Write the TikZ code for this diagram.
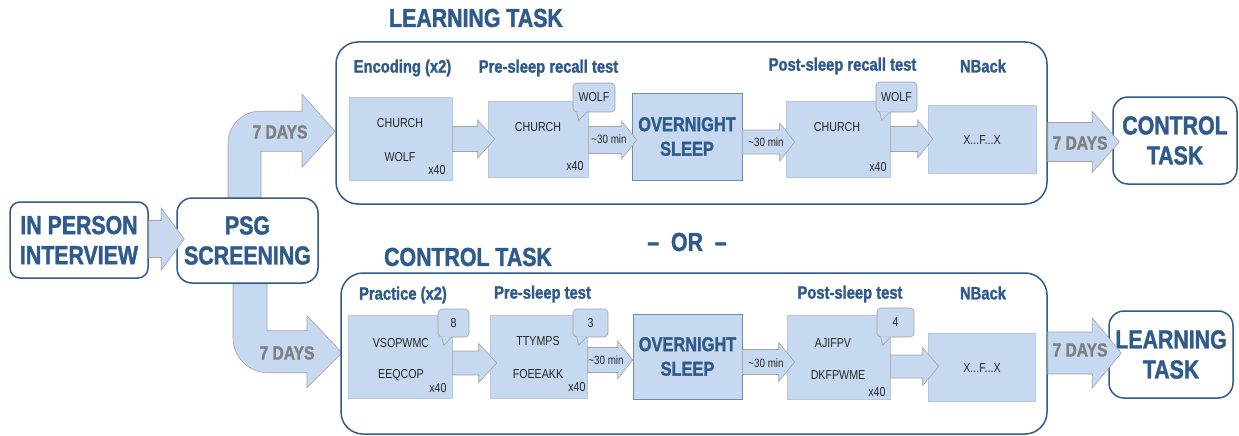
\documentclass[tikz,border=0pt]{standalone}
\usepackage{fontspec}
\setmainfont{Liberation Sans}[FakeStretch=0.82,BoldFeatures={FakeBold=1.5}]
\usetikzlibrary{calc,backgrounds}
\definecolor{tblue}{HTML}{2F5B8C}
\definecolor{boxblue}{HTML}{C6D9F1}
\definecolor{boxedge}{HTML}{B7C9E0}
\definecolor{arrowedge}{HTML}{A3A3A3}
\definecolor{daygray}{HTML}{7F7F7F}
% block arrow: from, to, y, shaft, head, head length
\newcommand{\flow}[6]{%
  \path[flowarrow] let \p1=(#1), \p2=(#2), \p3=(0,#3) in
    (\x1,\y3+#4pt/2) -- (\x2-#6pt,\y3+#4pt/2) -- (\x2-#6pt,\y3+#5pt/2) -- (\x2,\y3)
    -- (\x2-#6pt,\y3-#5pt/2) -- (\x2-#6pt,\y3-#4pt/2) -- (\x1,\y3-#4pt/2) -- cycle;}
% pointer under a speech bubble
\newcommand{\tail}[1]{%
  \fill[boxblue] ($(#1.south west)+(4,-1)$) -- ($(#1.south west)+(6,8)$) -- ($(#1.south west)+(14,-1)$) -- cycle;
  \draw[draw=arrowedge,line width=0.6pt] ($(#1.south west)+(4,0)$) -- ($(#1.south west)+(6,8)$) -- ($(#1.south west)+(14,0)$);}

\begin{document}
\begin{tikzpicture}[x=1pt,y=-1pt,
    panel/.style={draw=tblue,line width=1.5pt,rounded corners=22pt,fill=white,inner sep=0pt},
    stage/.style={draw=tblue,line width=1.5pt,rounded corners=15pt,fill=white,align=center,text=tblue,
      font=\fontsize{26}{30}\selectfont\bfseries,inner sep=0pt},
    taskbox/.style={fill=boxblue,draw=boxedge,line width=0.6pt,inner sep=0pt},
    sleepbox/.style={fill=boxblue,draw=tblue!70,line width=0.8pt,inner sep=0pt,align=center,text=tblue,
      font=\fontsize{20}{24.5}\selectfont\bfseries},
    bubble/.style={fill=boxblue,draw=arrowedge,line width=0.6pt,rounded corners=4pt,inner sep=0pt,
      text=black!85,font=\fontsize{13}{13}\selectfont},
    flowarrow/.style={fill=boxblue,draw=arrowedge,line width=0.6pt},
    heading/.style={text=tblue,font=\fontsize{26}{26}\selectfont\bfseries},
    phase/.style={text=tblue,font=\fontsize{18}{18}\selectfont\bfseries},
    item/.style={text=black!85,font=\fontsize{13}{13}\selectfont},
    gap/.style={text=black!85,font=\fontsize{12}{12}\selectfont},
    days/.style={text=daygray,font=\fontsize{19}{19}\selectfont\bfseries}]
  \useasboundingbox (0,0) rectangle (1239,436);

  % the two sessions
  \node[panel,minimum width=711,minimum height=162] (learnpanel) at (691.5,123) {};
  \node[panel,minimum width=706,minimum height=161] (ctrlpanel) at (694,353.5) {};
  \node[heading] (learnhead) at (476,18) {LEARNING TASK};
  \node[heading] (ctrlhead) at (468,257) {CONTROL TASK};
  \node[heading] (orhead) at (687,242) {–~~OR~~–};

  % start and end points
  \node[stage,rounded corners=10pt,minimum width=138,minimum height=76] (interview) at (79,240) {IN PERSON\\INTERVIEW};
  \node[stage,minimum width=141,minimum height=85] (psg) at (247.5,240.5) {PSG\\SCREENING};
  \node[stage,minimum width=124,minimum height=87] (ctrlend) at (1175,140.5) {CONTROL\\TASK};
  \node[stage,minimum width=124,minimum height=87] (learnend) at (1171,354.5) {LEARNING\\TASK};
  \flow{interview.east}{$(psg.west)+(8,0)$}{239}{37}{62}{23}

  % bent arrows out of the screening
  \begin{scope}[on background layer]
    \path[flowarrow] ($(psg.north)+(-19.5,0)$) -- ++(0,-54) arc[start angle=180,end angle=90,radius=32pt]
      -- ++(42,0) -- ++(0,-17) -- ++(33,37) -- ++(-33,36) -- ++(0,-16) -- ++(-41,0) -- ++(0,46) -- cycle;
    \path[flowarrow] ($(psg.south)+(-14.5,0)$) -- ++(0,54) arc[start angle=180,end angle=270,radius=35pt]
      -- ++(39,0) -- ++(0,15) -- ++(35,-35) -- ++(-35,-37) -- ++(0,15) -- ++(-40,0) -- ++(0,-47) -- cycle;
  \end{scope}
  \node[days] (daysA) at (280,132) {7 DAYS};
  \node[days] (daysB) at (287,353) {7 DAYS};

  % learning session
  \node[phase] (encl) at (402.5,68) {Encoding (x2)};
  \node[phase] (prel) at (548.5,68) {Pre-sleep recall test};
  \node[phase] (postl) at (842.5,66) {Post-sleep recall test};
  \node[phase] (nbl) at (983,66) {NBack};
  \node[taskbox,minimum width=103,minimum height=83] (enc) at (400.5,138.5) {};
  \node[taskbox,minimum width=100,minimum height=76] (pre) at (538,139) {};
  \node[sleepbox,minimum width=110,minimum height=87] (sleepA) at (687,136.5) {OVERNIGHT\\SLEEP};
  \node[taskbox,minimum width=104,minimum height=76] (post) at (838,139) {};
  \node[taskbox,minimum width=108,minimum height=68] (nback) at (982,139) {};
  \node[item] (encw1) at (400,123) {CHURCH};
  \node[item] (encw2) at (400,157) {WOLF};
  \node[item] (encn) at (437,170) {x40};
  \node[item] (prew) at (538,127) {CHURCH};
  \node[item] (pren) at (575,166) {x40};
  \node[item] (postw) at (837,127) {CHURCH};
  \node[item] (postn) at (878,167) {x40};
  \node[item] (nbw) at (982,140) {X...F...X};
  \node[bubble,minimum width=42,minimum height=29] (wolfA) at (594,97.5) {WOLF};
  \tail{wolfA}
  \node[bubble,minimum width=41,minimum height=30] (wolfB) at (896.5,97) {WOLF};
  \tail{wolfB}
  \flow{enc.east}{$(pre.west)+(7,0)$}{139}{25}{38}{17}
  \flow{pre.east}{$(sleepA.west)+(5,0)$}{140}{27}{38}{15}
  \flow{sleepA.east}{$(post.west)+(9,0)$}{142}{24}{38}{15}
  \flow{post.east}{$(nback.west)+(5,0)$}{139}{25}{38}{15}
  \flow{learnpanel.east}{$(ctrlend.west)+(7,0)$}{142}{39}{61}{27}
  \node[gap] (gapA) at (609,139) {\textasciitilde30 min};
  \node[gap] (gapB) at (766,142) {\textasciitilde30 min};
  \node[days] (daysC) at (1080,143) {7 DAYS};

  % control session
  \node[phase] (pracl) at (403,295) {Practice (x2)};
  \node[phase] (pre2l) at (542.5,294) {Pre-sleep test};
  \node[phase] (post2l) at (850,294) {Post-sleep test};
  \node[phase] (nb2l) at (983,293) {NBack};
  \node[taskbox,minimum width=104,minimum height=83] (prac) at (400,356.5) {};
  \node[taskbox,minimum width=97,minimum height=83] (pre2) at (538.5,356.5) {};
  \node[sleepbox,minimum width=109,minimum height=85] (sleepB) at (687.5,356.5) {OVERNIGHT\\SLEEP};
  \node[taskbox,minimum width=103,minimum height=84] (post2) at (838.5,357) {};
  \node[taskbox,minimum width=107,minimum height=68] (nback2) at (981.5,367) {};
  \node[item] (pracw1) at (401,343) {VSOPWMC};
  \node[item] (pracw2) at (401,375) {EEQCOP};
  \node[item] (pracn) at (438,388) {x40};
  \node[item] (pre2w1) at (538,341) {TTYMPS};
  \node[item] (pre2w2) at (538,374) {FOEEAKK};
  \node[item] (pre2n) at (577,387) {x40};
  \node[item] (post2w1) at (833,343) {AJIFPV};
  \node[item] (post2w2) at (838,375) {DKFPWME};
  \node[item] (post2n) at (877,392) {x40};
  \node[item] (nb2w) at (982,368) {X...F...X};
  \node[bubble,minimum width=31,minimum height=28] (numA) at (453.5,323) {8};
  \tail{numA}
  \node[bubble,minimum width=35,minimum height=28] (numB) at (590.5,323) {3};
  \tail{numB}
  \node[bubble,minimum width=37,minimum height=29] (numC) at (895.5,322.5) {4};
  \tail{numC}
  \flow{prac.east}{$(pre2.west)+(7,0)$}{363}{24}{39}{18}
  \flow{pre2.east}{sleepB.west}{360}{25}{38}{15}
  \flow{sleepB.east}{$(post2.west)+(8,0)$}{362}{25}{39}{16}
  \flow{post2.east}{$(nback2.west)+(11,0)$}{366.5}{23}{38}{16}
  \flow{ctrlpanel.east}{$(learnend.west)+(13,0)$}{353}{42}{70}{29}
  \node[gap] (gapC) at (606,360) {\textasciitilde30 min};
  \node[gap] (gapD) at (766,363) {\textasciitilde30 min};
  \node[days] (daysD) at (1080,350) {7 DAYS};
\end{tikzpicture}
\end{document}
